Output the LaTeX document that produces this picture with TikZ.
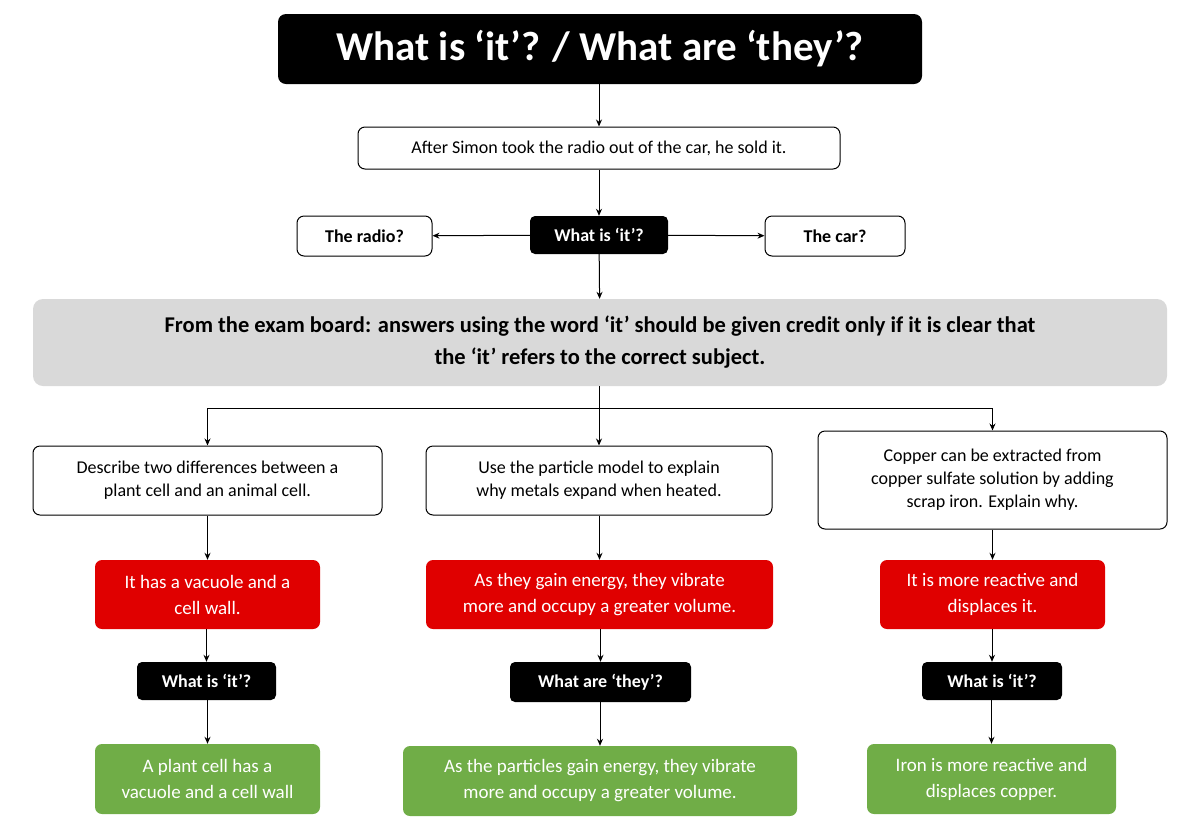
\documentclass[tikz,border=0pt]{standalone}
\usepackage{fontspec}
\setmainfont{Carlito}
\usetikzlibrary{arrows.meta}
\definecolor{rd}{HTML}{E00000}
\definecolor{gn}{HTML}{70AD47}
\definecolor{gy}{HTML}{D9D9D9}
\tikzset{
 bx/.style={draw=black,line width=1pt,rounded corners=7pt,fill=white,align=center,font=\fontsize{18}{23}\selectfont,inner sep=0pt},
 blk/.style={fill=black,rounded corners=5pt,align=center,text=white,font=\bfseries\fontsize{18}{22}\selectfont,inner sep=0pt},
 red/.style={fill=rd,rounded corners=7pt,align=center,text=white,font=\fontsize{19}{26}\selectfont,inner sep=0pt},
 grn/.style={fill=gn,rounded corners=7pt,align=center,text=white,font=\fontsize{19}{26}\selectfont,inner sep=0pt},
 ar/.style={-{Stealth[length=7pt,width=6pt]},line width=1pt}
}
\begin{document}
\begin{tikzpicture}[x=1pt,y=-1pt]
\useasboundingbox (0,0) rectangle (1200,831);
\node[blk,minimum width=644,minimum height=70,rounded corners=8pt,font=\bfseries\fontsize{41}{48}\selectfont] (t) at (600,49) {What is ‘it’? / What are ‘they’?};
\node[bx,minimum width=482,minimum height=42] (b1) at (599,148) {After Simon took the radio out of the car, he sold it.};
\node[blk,minimum width=138,minimum height=38] (w) at (599,235) {What is ‘it’?};
\node[bx,font=\bfseries\fontsize{18}{22}\selectfont,minimum width=135,minimum height=40] (r) at (364.5,236) {The radio?};
\node[bx,font=\bfseries\fontsize{18}{22}\selectfont,minimum width=140,minimum height=40] (c) at (835,236) {The car?};
\node[fill=gy,rounded corners=10pt,minimum width=1134,minimum height=87,align=center,inner sep=0pt,font=\bfseries\fontsize{22.5}{32}\selectfont] (g) at (600,342.5) {From the exam board: answers using the word ‘it’ should be given credit only if it is clear that\\the ‘it’ refers to the correct subject.};
\node[bx,minimum width=349,minimum height=69] (q1) at (207.5,480.5) {Describe two differences between a\\plant cell and an animal cell.};
\node[bx,minimum width=346,minimum height=69] (q2) at (599,480.5) {Use the particle model to explain\\why metals expand when heated.};
\node[bx,minimum width=349,minimum height=98] (q3) at (992.5,480) {Copper can be extracted from\\copper sulfate solution by adding\\scrap iron. Explain why.};
\node[red,minimum width=225,minimum height=69] (r1) at (207.5,594.5) {It has a vacuole and a\\cell wall.};
\node[red,minimum width=347,minimum height=69] (r2) at (599.5,594.5) {As they gain energy, they vibrate\\more and occupy a greater volume.};
\node[red,minimum width=225,minimum height=69] (r3) at (992.5,594.5) {It is more reactive and\\displaces it.};
\node[blk,minimum width=139,minimum height=38] (k1) at (206.5,681) {What is ‘it’?};
\node[blk,minimum width=181,minimum height=40] (k2) at (600.5,682) {What are ‘they’?};
\node[blk,minimum width=140,minimum height=38] (k3) at (992,681) {What is ‘it’?};
\node[grn,minimum width=225,minimum height=70] (g1) at (207.5,779) {A plant cell has a\\vacuole and a cell wall};
\node[grn,minimum width=394,minimum height=70] (g2) at (600,781) {As the particles gain energy, they vibrate\\more and occupy a greater volume.};
\node[grn,minimum width=249,minimum height=70] (g3) at (991.5,779) {Iron is more reactive and\\displaces copper.};
\draw[ar] (t.south -| b1) -- (b1);
\draw[ar] (b1) -- (w);
\draw[ar] (w) -- (r);
\draw[ar] (w) -- (c);
\draw[ar] (w) -- (g);
\coordinate (j) at (599,408);
\draw[line width=1pt] (g.south -| j) -- (j);
\draw[ar] (j) -- (q2);
\draw[ar] (j) -| (q1.north);
\draw[ar] (j) -| (q3.north);
\foreach \a/\b in {q1/r1,r1/k1,k1/g1,q2/r2,r2/k2,k2/g2,q3/r3,r3/k3,k3/g3}{
 \draw[ar] (\a.south -| \b) -- (\b);
}
\end{tikzpicture}
\end{document}
